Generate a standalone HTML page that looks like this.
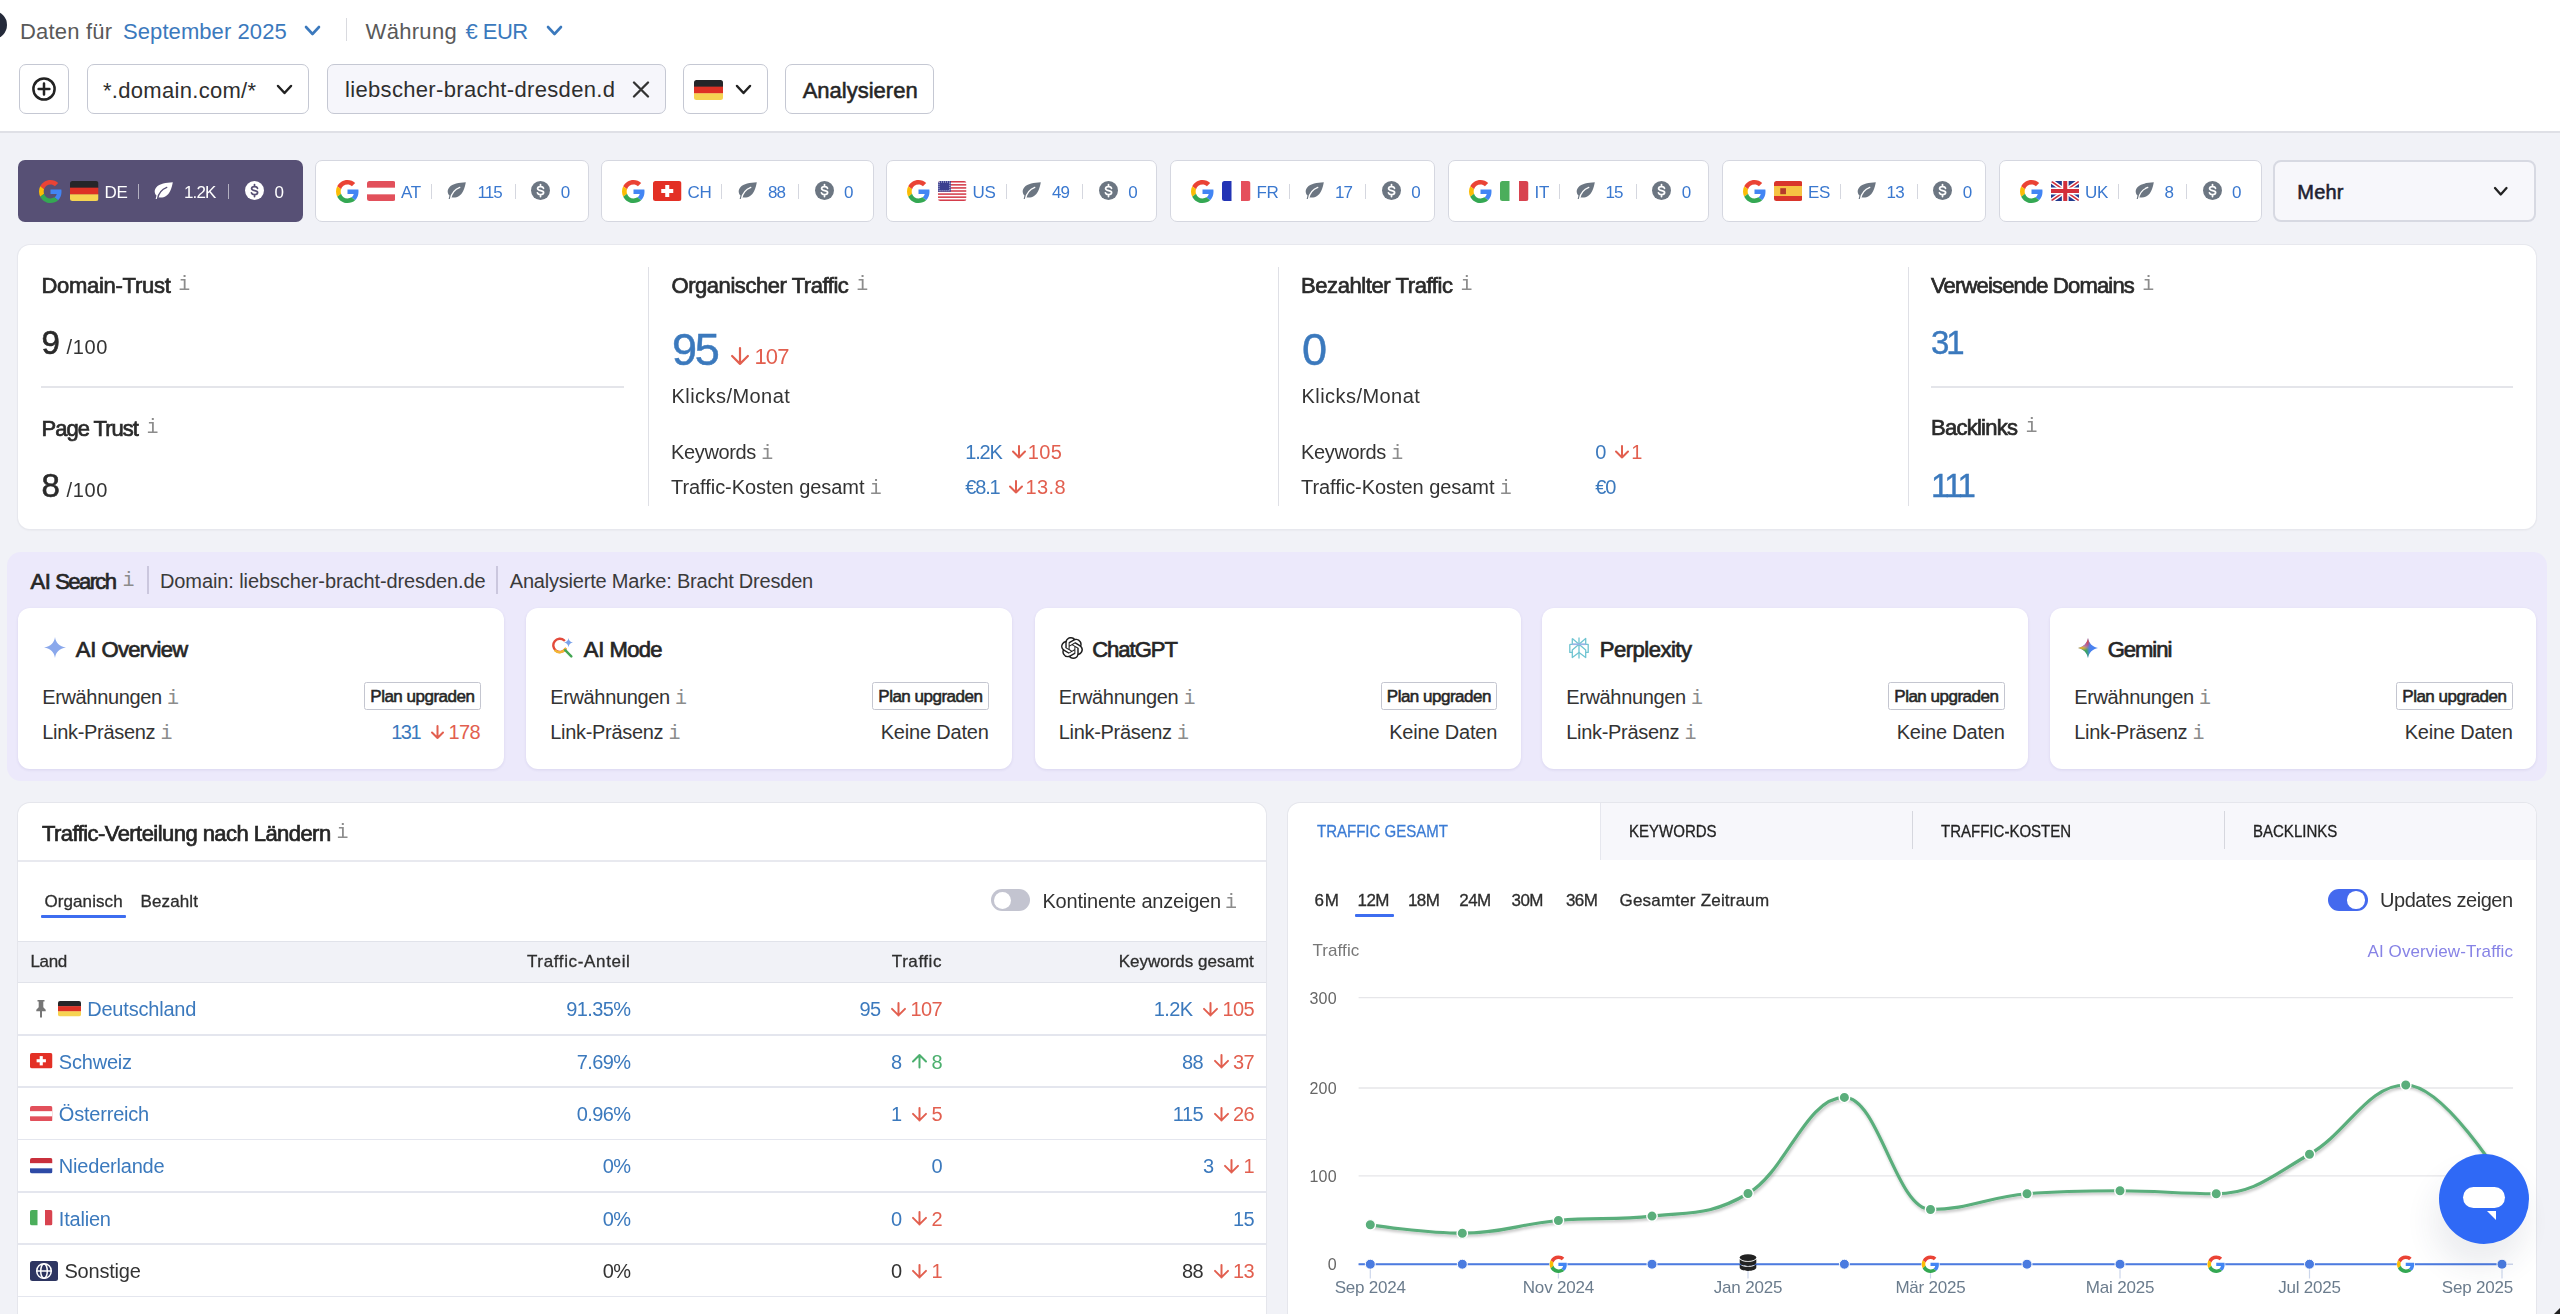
<!DOCTYPE html>
<html lang="de"><head><meta charset="utf-8"><title>Domain-Analyse</title>
<style>
*{margin:0;padding:0;box-sizing:content-box}
html,body{width:2560px;height:1314px;overflow:hidden;background:#f1f2f7}
body{position:relative;font-family:"Liberation Sans",Arial,sans-serif;-webkit-font-smoothing:antialiased}
#root{position:absolute;left:0;top:0;width:2560px;height:1314px;overflow:hidden;opacity:0.999}
.a{position:absolute}
.t{position:absolute;line-height:1;white-space:nowrap}
.ii{position:absolute;line-height:1;font-family:"Liberation Mono","DejaVu Sans Mono",monospace}
.tab{display:flex;align-items:center;font-size:17px;white-space:nowrap}
.tab svg{flex:none}
.tab .cd{margin-right:9.5px;letter-spacing:-0.3px;position:relative;top:1.5px}
.tab .sp{width:1px;height:15px;margin-right:15.5px;margin-left:0.5px;position:relative;top:0.5px}
.tab .nm{margin-right:12.5px;letter-spacing:-0.9px;position:relative;top:1.5px}
.tab .dl{width:19px;height:19px;border-radius:50%;font-size:14px;font-weight:700;line-height:19px;text-align:center;margin-right:10.5px}
.tab .nm2{letter-spacing:-0.5px;position:relative;top:1.5px}
.dol{border-radius:50%;text-align:center;font-weight:700}
.ii2{position:relative;font-family:"Liberation Mono","DejaVu Sans Mono",monospace;font-size:20px;color:#8c8c8c;letter-spacing:0;font-weight:400;-webkit-text-stroke:0}
</style></head>
<body>
<div id="root">
<div class="a" style="left:0px;top:0px;width:2560px;height:131px;background:#fff;"></div>
<div class="a" style="left:0px;top:131px;width:2560px;height:2px;background:#dfe0e6;"></div>
<div class="a" style="left:-21px;top:11px;width:28px;height:28px;border-radius:50%;background:#242a3a"></div>
<div class="t" style="top:21.4px;font-size:22px;color:#595959;letter-spacing:0.2px;left:20.0px;">Daten für</div>
<div class="t" style="top:21.4px;font-size:22px;color:#3b79bd;letter-spacing:0.08px;left:123.0px;">September 2025</div>
<svg class="a" style="left:303.5px;top:25px;" width="17" height="11" viewBox="0 0 17 11"><polyline points="2,2 8.5,9 15,2" fill="none" stroke="#3b79bd" stroke-width="2.6" stroke-linecap="round" stroke-linejoin="round"/></svg>
<div class="a" style="left:346px;top:18px;width:1px;height:23px;background:#d9dadf;"></div>
<div class="t" style="top:21.4px;font-size:22px;color:#595959;letter-spacing:0.3px;left:365.6px;">Währung</div>
<div class="t" style="top:21.4px;font-size:22px;color:#3b79bd;letter-spacing:-0.55px;left:465.6px;">€ EUR</div>
<svg class="a" style="left:545.5px;top:25px;" width="17" height="11" viewBox="0 0 17 11"><polyline points="2,2 8.5,9 15,2" fill="none" stroke="#3b79bd" stroke-width="2.6" stroke-linecap="round" stroke-linejoin="round"/></svg>
<div class="a" style="left:19px;top:64px;width:50px;height:50px;border:1.6px solid #c5c8d3;border-radius:7px;box-sizing:border-box;background:#fff;"></div>
<svg class="a" style="left:31px;top:76px;" width="26" height="26" viewBox="0 0 26 26"><circle cx="13" cy="13" r="10.6" fill="none" stroke="#222" stroke-width="2.5"/><path d="M13 7.6v10.8M7.6 13h10.8" stroke="#222" stroke-width="2.5" stroke-linecap="round"/></svg>
<div class="a" style="left:87px;top:64px;width:222px;height:50px;border:1.6px solid #c5c8d3;border-radius:7px;box-sizing:border-box;background:#fff;"></div>
<div class="t" style="top:79.6px;font-size:22px;color:#2e2e2e;letter-spacing:0.3px;left:103.0px;">*.domain.com/*</div>
<svg class="a" style="left:275.5px;top:84px;" width="17" height="11" viewBox="0 0 17 11"><polyline points="2,2 8.5,9 15,2" fill="none" stroke="#222" stroke-width="2.5" stroke-linecap="round" stroke-linejoin="round"/></svg>
<div class="a" style="left:327px;top:64px;width:339px;height:50px;border:1.6px solid #c5c8d3;border-radius:7px;box-sizing:border-box;background:#fff;background:#f6f6fb;"></div>
<div class="t" style="top:78.9px;font-size:22px;color:#2e2e2e;letter-spacing:0.33px;left:345.0px;">liebscher-bracht-dresden.d</div>
<svg class="a" style="left:632px;top:81px;" width="18" height="17" viewBox="0 0 18 17"><path d="M2 1.5L16 15.5M16 1.5L2 15.5" stroke="#333" stroke-width="2.3" stroke-linecap="round"/></svg>
<div class="a" style="left:683px;top:64px;width:85px;height:50px;border:1.6px solid #c5c8d3;border-radius:7px;box-sizing:border-box;background:#fff;"></div>
<svg width="29" height="20" viewBox="0 0 29 20" style="position:absolute;left:694px;top:79.5px;"><defs><clipPath id="cf1"><rect width="29" height="20" rx="2.5"/></clipPath></defs><g clip-path="url(#cf1)"><rect width="29" height="6.966666666666667" fill="#252528"/><rect y="6.666666666666667" width="29" height="6.966666666666667" fill="#de3125"/><rect y="13.333333333333334" width="29" height="6.666666666666667" fill="#f6d452"/></g></svg>
<svg class="a" style="left:734.5px;top:84px;" width="17" height="11" viewBox="0 0 17 11"><polyline points="2,2 8.5,9 15,2" fill="none" stroke="#222" stroke-width="2.5" stroke-linecap="round" stroke-linejoin="round"/></svg>
<div class="a" style="left:785px;top:64px;width:149px;height:50px;border:1.6px solid #c5c8d3;border-radius:7px;box-sizing:border-box;background:#fff;"></div>
<div class="t" style="top:79.8px;font-size:22px;color:#262626;-webkit-text-stroke:0.55px #262626;left:802.7px;">Analysieren</div>
<div class="a" style="left:18px;top:160px;width:285px;height:62px;background:#575075;border-radius:7px;"></div>
<div class="a tab" style="left:39px;top:179px;height:24px;color:#ffffff;"><svg width="23" height="23" viewBox="0 0 48 48" style="margin-right:8px"><path fill="#EA4335" d="M24 9.5c3.54 0 6.71 1.22 9.21 3.6l6.85-6.85C35.9 2.38 30.47 0 24 0 14.62 0 6.51 5.38 2.56 13.22l7.98 6.19C12.43 13.72 17.74 9.5 24 9.5z"/><path fill="#4285F4" d="M46.98 24.55c0-1.57-.15-3.09-.38-4.55H24v9.02h12.94c-.58 2.96-2.26 5.48-4.78 7.18l7.73 6c4.51-4.18 7.09-10.36 7.09-17.650z"/><path fill="#FBBC05" d="M10.53 28.59c-.48-1.45-.76-2.990-.76-4.59s.27-3.14.76-4.59l-7.98-6.19C.92 16.46 0 20.12 0 24c0 3.88.92 7.54 2.56 10.78l7.97-6.19z"/><path fill="#34A853" d="M24 48c6.48 0 11.93-2.13 15.89-5.81l-7.73-6c-2.15 1.45-4.92 2.3-8.16 2.3-6.26 0-11.57-4.22-13.470-9.91l-7.98 6.19C6.51 42.62 14.62 48 24 48z"/></svg><svg width="28.5" height="20" viewBox="0 0 28.5 20" style="margin-right:6px"><defs><clipPath id="cf2"><rect width="28.5" height="20" rx="2.5"/></clipPath></defs><g clip-path="url(#cf2)"><rect width="28.5" height="6.966666666666667" fill="#252528"/><rect y="6.666666666666667" width="28.5" height="6.966666666666667" fill="#de3125"/><rect y="13.333333333333334" width="28.5" height="6.666666666666667" fill="#f6d452"/></g></svg><span class="cd">DE</span><span class="sp" style="background:rgba(255,255,255,0.55)"></span><svg width="19" height="17.5" viewBox="0 0 19 17.5" style="margin-right:11px;position:relative;top:-0.5px"><path d="M18.8 0.3C12 0.8 5.5 1.5 2.2 5.5C0 8.3 0.3 11.5 2.5 13.6L1.6 17.2H3.8L4.4 15.2C8.5 16.4 13.6 14.6 16.2 9C17.6 6 18.4 3 18.8 0.3Z" fill="#ffffff"/><path d="M3.5 16.8C4.5 11 7.8 7.3 12.8 5.3" fill="none" stroke="#575075" stroke-width="1.3" stroke-linecap="round"/></svg><span class="nm">1.2K</span><span class="sp" style="background:rgba(255,255,255,0.55)"></span><svg width="19" height="19" viewBox="0 0 19 19" style="margin-right:10.5px;position:relative;top:-0.5px"><circle cx="9.5" cy="9.5" r="9.5" fill="#ffffff"/><path d="M12.5 7.3C12.2 6.1 11 5.5 9.5 5.5C7.9 5.5 6.6 6.3 6.6 7.6C6.6 10.6 12.6 8.7 12.6 11.6C12.6 12.9 11.2 13.7 9.5 13.7C8 13.7 6.8 13 6.4 11.8M9.5 3.6V5.5M9.5 13.7V15.5" fill="none" stroke="#575075" stroke-width="1.75" stroke-linecap="round"/></svg><span class="nm2">0</span></div>
<div class="a" style="left:314.5px;top:160px;width:274px;height:61.5px;background:#fff;border:1.5px solid #d5d7e0;border-radius:7px;box-sizing:border-box;"></div>
<div class="a tab" style="left:335.5px;top:179px;height:24px;color:#3a78cf;"><svg width="23" height="23" viewBox="0 0 48 48" style="margin-right:8px"><path fill="#EA4335" d="M24 9.5c3.54 0 6.71 1.22 9.21 3.6l6.85-6.85C35.9 2.38 30.47 0 24 0 14.62 0 6.51 5.38 2.56 13.22l7.98 6.19C12.43 13.72 17.74 9.5 24 9.5z"/><path fill="#4285F4" d="M46.98 24.55c0-1.57-.15-3.09-.38-4.55H24v9.02h12.94c-.58 2.96-2.26 5.48-4.78 7.18l7.73 6c4.51-4.18 7.09-10.36 7.09-17.650z"/><path fill="#FBBC05" d="M10.53 28.59c-.48-1.45-.76-2.990-.76-4.59s.27-3.14.76-4.59l-7.98-6.19C.92 16.46 0 20.12 0 24c0 3.88.92 7.54 2.56 10.78l7.97-6.19z"/><path fill="#34A853" d="M24 48c6.48 0 11.93-2.13 15.89-5.81l-7.73-6c-2.15 1.45-4.92 2.3-8.16 2.3-6.26 0-11.57-4.22-13.470-9.91l-7.98 6.19C6.51 42.62 14.62 48 24 48z"/></svg><svg width="28.5" height="20" viewBox="0 0 28.5 20" style="margin-right:6px"><defs><clipPath id="cf3"><rect width="28.5" height="20" rx="2.5"/></clipPath></defs><g clip-path="url(#cf3)"><rect width="28.5" height="20" fill="#e2505b"/><rect y="6.666666666666667" width="28.5" height="6.666666666666667" fill="#fff"/></g></svg><span class="cd">AT</span><span class="sp" style="background:#d5d7df"></span><svg width="19" height="17.5" viewBox="0 0 19 17.5" style="margin-right:11px;position:relative;top:-0.5px"><path d="M18.8 0.3C12 0.8 5.5 1.5 2.2 5.5C0 8.3 0.3 11.5 2.5 13.6L1.6 17.2H3.8L4.4 15.2C8.5 16.4 13.6 14.6 16.2 9C17.6 6 18.4 3 18.8 0.3Z" fill="#6c7682"/><path d="M3.5 16.8C4.5 11 7.8 7.3 12.8 5.3" fill="none" stroke="#ffffff" stroke-width="1.3" stroke-linecap="round"/></svg><span class="nm">115</span><span class="sp" style="background:#d5d7df"></span><svg width="19" height="19" viewBox="0 0 19 19" style="margin-right:10.5px;position:relative;top:-0.5px"><circle cx="9.5" cy="9.5" r="9.5" fill="#6c7682"/><path d="M12.5 7.3C12.2 6.1 11 5.5 9.5 5.5C7.9 5.5 6.6 6.3 6.6 7.6C6.6 10.6 12.6 8.7 12.6 11.6C12.6 12.9 11.2 13.7 9.5 13.7C8 13.7 6.8 13 6.4 11.8M9.5 3.6V5.5M9.5 13.7V15.5" fill="none" stroke="#ffffff" stroke-width="1.75" stroke-linecap="round"/></svg><span class="nm2">0</span></div>
<div class="a" style="left:601px;top:160px;width:273px;height:61.5px;background:#fff;border:1.5px solid #d5d7e0;border-radius:7px;box-sizing:border-box;"></div>
<div class="a tab" style="left:622px;top:179px;height:24px;color:#3a78cf;"><svg width="23" height="23" viewBox="0 0 48 48" style="margin-right:8px"><path fill="#EA4335" d="M24 9.5c3.54 0 6.71 1.22 9.21 3.6l6.85-6.85C35.9 2.38 30.47 0 24 0 14.62 0 6.51 5.38 2.56 13.22l7.98 6.19C12.43 13.72 17.74 9.5 24 9.5z"/><path fill="#4285F4" d="M46.98 24.55c0-1.57-.15-3.09-.38-4.55H24v9.02h12.94c-.58 2.96-2.26 5.48-4.78 7.18l7.73 6c4.51-4.18 7.09-10.36 7.09-17.650z"/><path fill="#FBBC05" d="M10.53 28.59c-.48-1.45-.76-2.990-.76-4.59s.27-3.14.76-4.59l-7.98-6.19C.92 16.46 0 20.12 0 24c0 3.88.92 7.54 2.56 10.78l7.97-6.19z"/><path fill="#34A853" d="M24 48c6.48 0 11.93-2.13 15.89-5.81l-7.73-6c-2.15 1.45-4.92 2.3-8.16 2.3-6.26 0-11.57-4.22-13.470-9.91l-7.98 6.19C6.51 42.62 14.62 48 24 48z"/></svg><svg width="28.5" height="20" viewBox="0 0 28.5 20" style="margin-right:6px"><defs><clipPath id="cf4"><rect width="28.5" height="20" rx="2.5"/></clipPath></defs><g clip-path="url(#cf4)"><rect width="28.5" height="20" fill="#e33025"/><rect x="12.25" y="4.0" width="4.0" height="12.0" fill="#fff"/><rect x="8.25" y="8.0" width="12.0" height="4.0" fill="#fff"/></g></svg><span class="cd">CH</span><span class="sp" style="background:#d5d7df"></span><svg width="19" height="17.5" viewBox="0 0 19 17.5" style="margin-right:11px;position:relative;top:-0.5px"><path d="M18.8 0.3C12 0.8 5.5 1.5 2.2 5.5C0 8.3 0.3 11.5 2.5 13.6L1.6 17.2H3.8L4.4 15.2C8.5 16.4 13.6 14.6 16.2 9C17.6 6 18.4 3 18.8 0.3Z" fill="#6c7682"/><path d="M3.5 16.8C4.5 11 7.8 7.3 12.8 5.3" fill="none" stroke="#ffffff" stroke-width="1.3" stroke-linecap="round"/></svg><span class="nm">88</span><span class="sp" style="background:#d5d7df"></span><svg width="19" height="19" viewBox="0 0 19 19" style="margin-right:10.5px;position:relative;top:-0.5px"><circle cx="9.5" cy="9.5" r="9.5" fill="#6c7682"/><path d="M12.5 7.3C12.2 6.1 11 5.5 9.5 5.5C7.9 5.5 6.6 6.3 6.6 7.6C6.6 10.6 12.6 8.7 12.6 11.6C12.6 12.9 11.2 13.7 9.5 13.7C8 13.7 6.8 13 6.4 11.8M9.5 3.6V5.5M9.5 13.7V15.5" fill="none" stroke="#ffffff" stroke-width="1.75" stroke-linecap="round"/></svg><span class="nm2">0</span></div>
<div class="a" style="left:886px;top:160px;width:271px;height:61.5px;background:#fff;border:1.5px solid #d5d7e0;border-radius:7px;box-sizing:border-box;"></div>
<div class="a tab" style="left:907px;top:179px;height:24px;color:#3a78cf;"><svg width="23" height="23" viewBox="0 0 48 48" style="margin-right:8px"><path fill="#EA4335" d="M24 9.5c3.54 0 6.71 1.22 9.21 3.6l6.85-6.85C35.9 2.38 30.47 0 24 0 14.62 0 6.51 5.38 2.56 13.22l7.98 6.19C12.43 13.72 17.74 9.5 24 9.5z"/><path fill="#4285F4" d="M46.98 24.55c0-1.57-.15-3.09-.38-4.55H24v9.02h12.94c-.58 2.96-2.26 5.48-4.78 7.18l7.73 6c4.51-4.18 7.09-10.36 7.09-17.650z"/><path fill="#FBBC05" d="M10.53 28.59c-.48-1.45-.76-2.990-.76-4.59s.27-3.14.76-4.59l-7.98-6.19C.92 16.46 0 20.12 0 24c0 3.88.92 7.54 2.56 10.78l7.97-6.19z"/><path fill="#34A853" d="M24 48c6.48 0 11.93-2.13 15.89-5.81l-7.73-6c-2.15 1.45-4.92 2.3-8.16 2.3-6.26 0-11.57-4.22-13.470-9.91l-7.98 6.19C6.51 42.62 14.62 48 24 48z"/></svg><svg width="28.5" height="20" viewBox="0 0 28.5 20" style="margin-right:6px"><defs><clipPath id="cf5"><rect width="28.5" height="20" rx="2.5"/></clipPath></defs><g clip-path="url(#cf5)"><rect width="28.5" height="20" fill="#fff"/><rect y="0.0" width="28.5" height="1.5384615384615385" fill="#d43c4a"/><rect y="3.076923076923077" width="28.5" height="1.5384615384615385" fill="#d43c4a"/><rect y="6.153846153846154" width="28.5" height="1.5384615384615385" fill="#d43c4a"/><rect y="9.23076923076923" width="28.5" height="1.5384615384615385" fill="#d43c4a"/><rect y="12.307692307692308" width="28.5" height="1.5384615384615385" fill="#d43c4a"/><rect y="15.384615384615385" width="28.5" height="1.5384615384615385" fill="#d43c4a"/><rect y="18.46153846153846" width="28.5" height="1.5384615384615385" fill="#d43c4a"/><rect width="12.825000000000001" height="10.76923076923077" fill="#3b3f8f"/><rect x="1" y="1" width="10.825000000000001" height="8.76923076923077" fill="none" stroke="#cfd3ea" stroke-width="1" stroke-dasharray="1 1"/></g></svg><span class="cd">US</span><span class="sp" style="background:#d5d7df"></span><svg width="19" height="17.5" viewBox="0 0 19 17.5" style="margin-right:11px;position:relative;top:-0.5px"><path d="M18.8 0.3C12 0.8 5.5 1.5 2.2 5.5C0 8.3 0.3 11.5 2.5 13.6L1.6 17.2H3.8L4.4 15.2C8.5 16.4 13.6 14.6 16.2 9C17.6 6 18.4 3 18.8 0.3Z" fill="#6c7682"/><path d="M3.5 16.8C4.5 11 7.8 7.3 12.8 5.3" fill="none" stroke="#ffffff" stroke-width="1.3" stroke-linecap="round"/></svg><span class="nm">49</span><span class="sp" style="background:#d5d7df"></span><svg width="19" height="19" viewBox="0 0 19 19" style="margin-right:10.5px;position:relative;top:-0.5px"><circle cx="9.5" cy="9.5" r="9.5" fill="#6c7682"/><path d="M12.5 7.3C12.2 6.1 11 5.5 9.5 5.5C7.9 5.5 6.6 6.3 6.6 7.6C6.6 10.6 12.6 8.7 12.6 11.6C12.6 12.9 11.2 13.7 9.5 13.7C8 13.7 6.8 13 6.4 11.8M9.5 3.6V5.5M9.5 13.7V15.5" fill="none" stroke="#ffffff" stroke-width="1.75" stroke-linecap="round"/></svg><span class="nm2">0</span></div>
<div class="a" style="left:1170px;top:160px;width:265px;height:61.5px;background:#fff;border:1.5px solid #d5d7e0;border-radius:7px;box-sizing:border-box;"></div>
<div class="a tab" style="left:1191px;top:179px;height:24px;color:#3a78cf;"><svg width="23" height="23" viewBox="0 0 48 48" style="margin-right:8px"><path fill="#EA4335" d="M24 9.5c3.54 0 6.71 1.22 9.21 3.6l6.85-6.85C35.9 2.38 30.47 0 24 0 14.62 0 6.51 5.38 2.56 13.22l7.98 6.19C12.43 13.72 17.74 9.5 24 9.5z"/><path fill="#4285F4" d="M46.98 24.55c0-1.57-.15-3.09-.38-4.55H24v9.02h12.94c-.58 2.96-2.26 5.48-4.78 7.18l7.73 6c4.51-4.18 7.09-10.36 7.09-17.650z"/><path fill="#FBBC05" d="M10.53 28.59c-.48-1.45-.76-2.990-.76-4.59s.27-3.14.76-4.59l-7.98-6.19C.92 16.46 0 20.12 0 24c0 3.88.92 7.54 2.56 10.78l7.97-6.19z"/><path fill="#34A853" d="M24 48c6.48 0 11.93-2.13 15.89-5.81l-7.73-6c-2.15 1.45-4.92 2.3-8.16 2.3-6.26 0-11.57-4.22-13.470-9.91l-7.98 6.19C6.51 42.62 14.62 48 24 48z"/></svg><svg width="28.5" height="20" viewBox="0 0 28.5 20" style="margin-right:6px"><defs><clipPath id="cf6"><rect width="28.5" height="20" rx="2.5"/></clipPath></defs><g clip-path="url(#cf6)"><rect width="28.5" height="20" fill="#fff"/><rect width="9.5" height="20" fill="#2334b5"/><rect x="19.0" width="9.5" height="20" fill="#e5505c"/></g></svg><span class="cd">FR</span><span class="sp" style="background:#d5d7df"></span><svg width="19" height="17.5" viewBox="0 0 19 17.5" style="margin-right:11px;position:relative;top:-0.5px"><path d="M18.8 0.3C12 0.8 5.5 1.5 2.2 5.5C0 8.3 0.3 11.5 2.5 13.6L1.6 17.2H3.8L4.4 15.2C8.5 16.4 13.6 14.6 16.2 9C17.6 6 18.4 3 18.8 0.3Z" fill="#6c7682"/><path d="M3.5 16.8C4.5 11 7.8 7.3 12.8 5.3" fill="none" stroke="#ffffff" stroke-width="1.3" stroke-linecap="round"/></svg><span class="nm">17</span><span class="sp" style="background:#d5d7df"></span><svg width="19" height="19" viewBox="0 0 19 19" style="margin-right:10.5px;position:relative;top:-0.5px"><circle cx="9.5" cy="9.5" r="9.5" fill="#6c7682"/><path d="M12.5 7.3C12.2 6.1 11 5.5 9.5 5.5C7.9 5.5 6.6 6.3 6.6 7.6C6.6 10.6 12.6 8.7 12.6 11.6C12.6 12.9 11.2 13.7 9.5 13.7C8 13.7 6.8 13 6.4 11.8M9.5 3.6V5.5M9.5 13.7V15.5" fill="none" stroke="#ffffff" stroke-width="1.75" stroke-linecap="round"/></svg><span class="nm2">0</span></div>
<div class="a" style="left:1448px;top:160px;width:261px;height:61.5px;background:#fff;border:1.5px solid #d5d7e0;border-radius:7px;box-sizing:border-box;"></div>
<div class="a tab" style="left:1469px;top:179px;height:24px;color:#3a78cf;"><svg width="23" height="23" viewBox="0 0 48 48" style="margin-right:8px"><path fill="#EA4335" d="M24 9.5c3.54 0 6.71 1.22 9.21 3.6l6.85-6.85C35.9 2.38 30.47 0 24 0 14.62 0 6.51 5.38 2.56 13.22l7.98 6.19C12.43 13.72 17.74 9.5 24 9.5z"/><path fill="#4285F4" d="M46.98 24.55c0-1.57-.15-3.09-.38-4.55H24v9.02h12.94c-.58 2.96-2.26 5.48-4.78 7.18l7.73 6c4.51-4.18 7.09-10.36 7.09-17.650z"/><path fill="#FBBC05" d="M10.53 28.59c-.48-1.45-.76-2.990-.76-4.59s.27-3.14.76-4.59l-7.98-6.19C.92 16.46 0 20.12 0 24c0 3.88.92 7.54 2.56 10.78l7.97-6.19z"/><path fill="#34A853" d="M24 48c6.48 0 11.93-2.13 15.89-5.81l-7.73-6c-2.15 1.45-4.92 2.3-8.16 2.3-6.26 0-11.57-4.22-13.470-9.91l-7.98 6.19C6.51 42.62 14.62 48 24 48z"/></svg><svg width="28.5" height="20" viewBox="0 0 28.5 20" style="margin-right:6px"><defs><clipPath id="cf7"><rect width="28.5" height="20" rx="2.5"/></clipPath></defs><g clip-path="url(#cf7)"><rect width="28.5" height="20" fill="#fff"/><rect width="9.5" height="20" fill="#4bae5b"/><rect x="19.0" width="9.5" height="20" fill="#d8434f"/></g></svg><span class="cd">IT</span><span class="sp" style="background:#d5d7df"></span><svg width="19" height="17.5" viewBox="0 0 19 17.5" style="margin-right:11px;position:relative;top:-0.5px"><path d="M18.8 0.3C12 0.8 5.5 1.5 2.2 5.5C0 8.3 0.3 11.5 2.5 13.6L1.6 17.2H3.8L4.4 15.2C8.5 16.4 13.6 14.6 16.2 9C17.6 6 18.4 3 18.8 0.3Z" fill="#6c7682"/><path d="M3.5 16.8C4.5 11 7.8 7.3 12.8 5.3" fill="none" stroke="#ffffff" stroke-width="1.3" stroke-linecap="round"/></svg><span class="nm">15</span><span class="sp" style="background:#d5d7df"></span><svg width="19" height="19" viewBox="0 0 19 19" style="margin-right:10.5px;position:relative;top:-0.5px"><circle cx="9.5" cy="9.5" r="9.5" fill="#6c7682"/><path d="M12.5 7.3C12.2 6.1 11 5.5 9.5 5.5C7.9 5.5 6.6 6.3 6.6 7.6C6.6 10.6 12.6 8.7 12.6 11.6C12.6 12.9 11.2 13.7 9.5 13.7C8 13.7 6.8 13 6.4 11.8M9.5 3.6V5.5M9.5 13.7V15.5" fill="none" stroke="#ffffff" stroke-width="1.75" stroke-linecap="round"/></svg><span class="nm2">0</span></div>
<div class="a" style="left:1721.5px;top:160px;width:264.5px;height:61.5px;background:#fff;border:1.5px solid #d5d7e0;border-radius:7px;box-sizing:border-box;"></div>
<div class="a tab" style="left:1742.5px;top:179px;height:24px;color:#3a78cf;"><svg width="23" height="23" viewBox="0 0 48 48" style="margin-right:8px"><path fill="#EA4335" d="M24 9.5c3.54 0 6.71 1.22 9.21 3.6l6.85-6.85C35.9 2.38 30.47 0 24 0 14.62 0 6.51 5.38 2.56 13.22l7.98 6.19C12.43 13.72 17.74 9.5 24 9.5z"/><path fill="#4285F4" d="M46.98 24.55c0-1.57-.15-3.09-.38-4.55H24v9.02h12.94c-.58 2.96-2.26 5.48-4.78 7.18l7.73 6c4.51-4.18 7.09-10.36 7.09-17.650z"/><path fill="#FBBC05" d="M10.53 28.59c-.48-1.45-.76-2.990-.76-4.59s.27-3.14.76-4.59l-7.98-6.19C.92 16.46 0 20.12 0 24c0 3.88.92 7.54 2.56 10.78l7.97-6.19z"/><path fill="#34A853" d="M24 48c6.48 0 11.93-2.13 15.89-5.81l-7.73-6c-2.15 1.45-4.92 2.3-8.16 2.3-6.26 0-11.57-4.22-13.470-9.91l-7.98 6.19C6.51 42.62 14.62 48 24 48z"/></svg><svg width="28.5" height="20" viewBox="0 0 28.5 20" style="margin-right:6px"><defs><clipPath id="cf8"><rect width="28.5" height="20" rx="2.5"/></clipPath></defs><g clip-path="url(#cf8)"><rect width="28.5" height="20" fill="#d9352b"/><rect y="5.0" width="28.5" height="10.0" fill="#f6c343"/><rect x="6.2700000000000005" y="7.199999999999999" width="5.7" height="6.0" fill="#b53a2a"/></g></svg><span class="cd">ES</span><span class="sp" style="background:#d5d7df"></span><svg width="19" height="17.5" viewBox="0 0 19 17.5" style="margin-right:11px;position:relative;top:-0.5px"><path d="M18.8 0.3C12 0.8 5.5 1.5 2.2 5.5C0 8.3 0.3 11.5 2.5 13.6L1.6 17.2H3.8L4.4 15.2C8.5 16.4 13.6 14.6 16.2 9C17.6 6 18.4 3 18.8 0.3Z" fill="#6c7682"/><path d="M3.5 16.8C4.5 11 7.8 7.3 12.8 5.3" fill="none" stroke="#ffffff" stroke-width="1.3" stroke-linecap="round"/></svg><span class="nm">13</span><span class="sp" style="background:#d5d7df"></span><svg width="19" height="19" viewBox="0 0 19 19" style="margin-right:10.5px;position:relative;top:-0.5px"><circle cx="9.5" cy="9.5" r="9.5" fill="#6c7682"/><path d="M12.5 7.3C12.2 6.1 11 5.5 9.5 5.5C7.9 5.5 6.6 6.3 6.6 7.6C6.6 10.6 12.6 8.7 12.6 11.6C12.6 12.9 11.2 13.7 9.5 13.7C8 13.7 6.8 13 6.4 11.8M9.5 3.6V5.5M9.5 13.7V15.5" fill="none" stroke="#ffffff" stroke-width="1.75" stroke-linecap="round"/></svg><span class="nm2">0</span></div>
<div class="a" style="left:1998.5px;top:160px;width:263px;height:61.5px;background:#fff;border:1.5px solid #d5d7e0;border-radius:7px;box-sizing:border-box;"></div>
<div class="a tab" style="left:2019.5px;top:179px;height:24px;color:#3a78cf;"><svg width="23" height="23" viewBox="0 0 48 48" style="margin-right:8px"><path fill="#EA4335" d="M24 9.5c3.54 0 6.71 1.22 9.21 3.6l6.85-6.85C35.9 2.38 30.47 0 24 0 14.62 0 6.51 5.38 2.56 13.22l7.98 6.19C12.43 13.72 17.74 9.5 24 9.5z"/><path fill="#4285F4" d="M46.98 24.55c0-1.57-.15-3.09-.38-4.55H24v9.02h12.94c-.58 2.96-2.26 5.48-4.78 7.18l7.73 6c4.51-4.18 7.09-10.36 7.09-17.650z"/><path fill="#FBBC05" d="M10.53 28.59c-.48-1.45-.76-2.990-.76-4.59s.27-3.14.76-4.59l-7.98-6.19C.92 16.46 0 20.12 0 24c0 3.88.92 7.54 2.56 10.78l7.97-6.19z"/><path fill="#34A853" d="M24 48c6.48 0 11.93-2.13 15.89-5.81l-7.73-6c-2.15 1.45-4.92 2.3-8.16 2.3-6.26 0-11.57-4.22-13.470-9.91l-7.98 6.19C6.51 42.62 14.62 48 24 48z"/></svg><svg width="28.5" height="20" viewBox="0 0 28.5 20" style="margin-right:6px"><defs><clipPath id="cf9"><rect width="28.5" height="20" rx="2.5"/></clipPath></defs><g clip-path="url(#cf9)"><rect width="28.5" height="20" fill="#243c8f"/><path d="M0,0 L28.5,20 M28.5,0 L0,20" stroke="#fff" stroke-width="4.4"/><path d="M0,0 L28.5,20 M28.5,0 L0,20" stroke="#d32f3b" stroke-width="1.6"/><path d="M14.25,0 V20 M0,10.0 H28.5" stroke="#fff" stroke-width="6.800000000000001"/><path d="M14.25,0 V20 M0,10.0 H28.5" stroke="#d32f3b" stroke-width="4.0"/></g></svg><span class="cd">UK</span><span class="sp" style="background:#d5d7df"></span><svg width="19" height="17.5" viewBox="0 0 19 17.5" style="margin-right:11px;position:relative;top:-0.5px"><path d="M18.8 0.3C12 0.8 5.5 1.5 2.2 5.5C0 8.3 0.3 11.5 2.5 13.6L1.6 17.2H3.8L4.4 15.2C8.5 16.4 13.6 14.6 16.2 9C17.6 6 18.4 3 18.8 0.3Z" fill="#6c7682"/><path d="M3.5 16.8C4.5 11 7.8 7.3 12.8 5.3" fill="none" stroke="#ffffff" stroke-width="1.3" stroke-linecap="round"/></svg><span class="nm">8</span><span class="sp" style="background:#d5d7df"></span><svg width="19" height="19" viewBox="0 0 19 19" style="margin-right:10.5px;position:relative;top:-0.5px"><circle cx="9.5" cy="9.5" r="9.5" fill="#6c7682"/><path d="M12.5 7.3C12.2 6.1 11 5.5 9.5 5.5C7.9 5.5 6.6 6.3 6.6 7.6C6.6 10.6 12.6 8.7 12.6 11.6C12.6 12.9 11.2 13.7 9.5 13.7C8 13.7 6.8 13 6.4 11.8M9.5 3.6V5.5M9.5 13.7V15.5" fill="none" stroke="#ffffff" stroke-width="1.75" stroke-linecap="round"/></svg><span class="nm2">0</span></div>
<div class="a" style="left:2273px;top:160px;width:263px;height:61.5px;background:#f7f7fb;border:2.5px solid #d7d9e2;border-radius:8px;box-sizing:border-box;"></div>
<div class="t" style="top:181.7px;font-size:20px;color:#1e2130;-webkit-text-stroke:0.55px #1e2130;letter-spacing:0.2px;left:2297.3px;">Mehr</div>
<svg class="a" style="left:2493px;top:186px;" width="15.5" height="10.5" viewBox="0 0 15.5 10.5"><polyline points="2,2 7.75,8.5 13.5,2" fill="none" stroke="#222" stroke-width="2.3" stroke-linecap="round" stroke-linejoin="round"/></svg>
<div class="a" style="left:18px;top:245px;width:2518px;height:284px;background:#fff;border-radius:12px;box-shadow:0 0 0 1px #e7e8ee, 0 1px 3px rgba(30,35,60,0.08);"></div>
<div class="a" style="left:648px;top:267px;width:1px;height:239px;background:#dfe0e6;"></div>
<div class="a" style="left:1277.5px;top:267px;width:1px;height:239px;background:#dfe0e6;"></div>
<div class="a" style="left:1907.5px;top:267px;width:1px;height:239px;background:#dfe0e6;"></div>
<div class="t" style="top:274.8px;font-size:22px;color:#2a2a2a;-webkit-text-stroke:0.7px #2a2a2a;letter-spacing:-0.29px;left:41.5px;">Domain-Trust<span class="ii2" style="margin-left:7.79px;top:-3px">i</span></div>
<div class="t" style="top:326.4px;font-size:33px;color:#2a2a2a;-webkit-text-stroke:0.6px #2a2a2a;left:41.5px;">9</div>
<div class="t" style="top:337.4px;font-size:20px;color:#333;letter-spacing:0.6px;left:66.6px;">/100</div>
<div class="a" style="left:41px;top:385.5px;width:583px;height:2px;background:#e4e5ea;"></div>
<div class="t" style="top:417.9px;font-size:22px;color:#2a2a2a;-webkit-text-stroke:0.7px #2a2a2a;letter-spacing:-1.0px;left:41.5px;">Page Trust<span class="ii2" style="margin-left:8.5px;top:-3px">i</span></div>
<div class="t" style="top:469.1px;font-size:33px;color:#2a2a2a;-webkit-text-stroke:0.6px #2a2a2a;left:41.5px;">8</div>
<div class="t" style="top:480.1px;font-size:20px;color:#333;letter-spacing:0.6px;left:66.6px;">/100</div>
<div class="t" style="top:326.7px;font-size:45px;color:#3b79bd;-webkit-text-stroke:0.5px #3b79bd;letter-spacing:-2.2px;left:672.0px;">95</div>
<svg width="18" height="18" viewBox="0 0 18 18" style="overflow:visible;position:absolute;left:731.3px;top:346.5px;"><path d="M9.0 1.1V16.9M1.1 8.999999999999998L9.0 16.9L16.9 8.999999999999998" fill="none" stroke="#e25f4f" stroke-width="2.2" stroke-linecap="round" stroke-linejoin="round"/></svg>
<div class="t" style="top:346.2px;font-size:22px;color:#e25f4f;letter-spacing:-0.9px;left:754.5px;">107</div>
<div class="t" style="top:385.8px;font-size:20px;color:#333;letter-spacing:0.45px;left:671.5px;">Klicks/Monat</div>
<div class="t" style="top:442.0px;font-size:20px;color:#333;letter-spacing:-0.35px;left:671.0px;">Keywords<span class="ii2" style="margin-left:5.3px;top:0px">i</span></div>
<div class="t" style="top:477.3px;font-size:20px;color:#333;letter-spacing:-0.05px;left:671.0px;">Traffic-Kosten gesamt<span class="ii2" style="margin-left:5.3px;top:0px">i</span></div>
<div class="t" style="top:442.0px;font-size:20px;color:#3b79bd;letter-spacing:-1.2px;left:965.3px;"><span style="color:#3b79bd">1.2K</span><svg width="14" height="13.5" viewBox="0 0 14 13.5" style="overflow:visible;margin-left:10px;margin-right:2px;vertical-align:1px"><path d="M7.0 1.0V12.5M1.0 6.5L7.0 12.5L13.0 6.5" fill="none" stroke="#e25f4f" stroke-width="2" stroke-linecap="round" stroke-linejoin="round"/></svg><span style="color:#e25f4f;letter-spacing:0.4px">105</span></div>
<div class="t" style="top:477.3px;font-size:20px;color:#3b79bd;letter-spacing:-1.2px;left:965.3px;"><span style="color:#3b79bd">€8.1</span><svg width="14" height="13.5" viewBox="0 0 14 13.5" style="overflow:visible;margin-left:10px;margin-right:2px;vertical-align:1px"><path d="M7.0 1.0V12.5M1.0 6.5L7.0 12.5L13.0 6.5" fill="none" stroke="#e25f4f" stroke-width="2" stroke-linecap="round" stroke-linejoin="round"/></svg><span style="color:#e25f4f;letter-spacing:0.4px">13.8</span></div>
<div class="t" style="top:275.1px;font-size:22px;color:#2a2a2a;-webkit-text-stroke:0.7px #2a2a2a;letter-spacing:-0.45px;left:671.5px;">Organischer Traffic<span class="ii2" style="margin-left:7.95px;top:-3px">i</span></div>
<div class="t" style="top:326.7px;font-size:45px;color:#3b79bd;-webkit-text-stroke:0.5px #3b79bd;letter-spacing:-2.2px;left:1302.0px;">0</div>
<div class="t" style="top:385.8px;font-size:20px;color:#333;letter-spacing:0.45px;left:1301.5px;">Klicks/Monat</div>
<div class="t" style="top:442.0px;font-size:20px;color:#333;letter-spacing:-0.35px;left:1301.0px;">Keywords<span class="ii2" style="margin-left:5.3px;top:0px">i</span></div>
<div class="t" style="top:477.3px;font-size:20px;color:#333;letter-spacing:-0.05px;left:1301.0px;">Traffic-Kosten gesamt<span class="ii2" style="margin-left:5.3px;top:0px">i</span></div>
<div class="t" style="top:442.0px;font-size:20px;color:#3b79bd;letter-spacing:-1.2px;left:1595.3px;"><span style="color:#3b79bd">0</span><svg width="14" height="13.5" viewBox="0 0 14 13.5" style="overflow:visible;margin-left:10px;margin-right:2px;vertical-align:1px"><path d="M7.0 1.0V12.5M1.0 6.5L7.0 12.5L13.0 6.5" fill="none" stroke="#e25f4f" stroke-width="2" stroke-linecap="round" stroke-linejoin="round"/></svg><span style="color:#e25f4f;letter-spacing:0.4px">1</span></div>
<div class="t" style="top:477.3px;font-size:20px;color:#3b79bd;letter-spacing:-1.2px;left:1595.3px;"><span style="color:#3b79bd">€0</span></div>
<div class="t" style="top:275.1px;font-size:22px;color:#2a2a2a;-webkit-text-stroke:0.7px #2a2a2a;letter-spacing:-0.41px;left:1301.0px;">Bezahlter Traffic<span class="ii2" style="margin-left:7.91px;top:-3px">i</span></div>
<div class="t" style="top:274.8px;font-size:22px;color:#2a2a2a;-webkit-text-stroke:0.7px #2a2a2a;letter-spacing:-0.84px;left:1931.0px;">Verweisende Domains<span class="ii2" style="margin-left:8.34px;top:-3px">i</span></div>
<div class="t" style="top:326.2px;font-size:33px;color:#3b79bd;-webkit-text-stroke:0.4px #3b79bd;letter-spacing:-3.2px;left:1931.0px;">31</div>
<div class="a" style="left:1931px;top:385.5px;width:582px;height:2px;background:#e4e5ea;"></div>
<div class="t" style="top:417.4px;font-size:22px;color:#2a2a2a;-webkit-text-stroke:0.7px #2a2a2a;letter-spacing:-0.75px;left:1931.0px;">Backlinks<span class="ii2" style="margin-left:8.25px;top:-3px">i</span></div>
<div class="t" style="top:468.9px;font-size:33px;color:#3b79bd;-webkit-text-stroke:0.4px #3b79bd;letter-spacing:-2.6px;left:1931.0px;">111</div>
<div class="a" style="left:7px;top:552px;width:2540px;height:229px;background:#ece9fb;border-radius:14px;"></div>
<div class="t" style="top:570.7px;font-size:22px;color:#262626;-webkit-text-stroke:0.7px #262626;letter-spacing:-1.6px;left:30.4px;"><span style="letter-spacing:-0.2px">AI</span> Search<span class="ii2" style="margin-left:7.1px;top:-2.5px">i</span></div>
<div class="a" style="left:147px;top:566px;width:1.5px;height:28px;background:#cbc7de;"></div>
<div class="t" style="top:570.8px;font-size:20px;color:#3a3a3a;letter-spacing:-0.1px;left:160.0px;">Domain: liebscher-bracht-dresden.de</div>
<div class="a" style="left:496px;top:566px;width:1.5px;height:28px;background:#cbc7de;"></div>
<div class="t" style="top:570.8px;font-size:20px;color:#3a3a3a;letter-spacing:-0.21px;left:509.8px;">Analysierte Marke: Bracht Dresden</div>
<div class="a" style="left:18px;top:608px;width:486px;height:161px;background:#fff;border-radius:12px;box-shadow:0 1px 3px rgba(60,50,140,0.10);"></div>
<svg class="a" style="left:44.4px;top:637px;" width="22" height="21" viewBox="0 0 22 21"><path d="M11 0C11.6 5.6 15.4 9.6 22 10.4 15.4 11.2 11.6 15.2 11 21 10.4 15.2 6.6 11.2 0 10.4 6.6 9.6 10.4 5.6 11 0Z" fill="#8aa8ec"/></svg>
<div class="t" style="top:638.5px;font-size:22px;color:#262626;-webkit-text-stroke:0.7px #262626;letter-spacing:-0.71px;left:75.7px;"><span style="letter-spacing:-0.2px">AI</span> Overview</div>
<div class="t" style="top:686.9px;font-size:20px;color:#333;letter-spacing:-0.35px;left:42.2px;">Erwähnungen<span class="ii2" style="margin-left:5.3px;top:0px">i</span></div>
<div class="a" style="left:364.3px;top:682.2px;width:116.5px;height:27.5px;border:1.2px solid #c4c6d0;border-radius:2.5px;box-sizing:border-box;background:#fff;"></div>
<div class="t" style="top:687.9px;font-size:17px;color:#262626;-webkit-text-stroke:0.55px #262626;letter-spacing:-0.5px;left:370.3px;">Plan upgraden</div>
<div class="t" style="top:721.5px;font-size:20px;color:#333;letter-spacing:-0.3px;left:42.2px;">Link-Präsenz<span class="ii2" style="margin-left:5.3px;top:0px">i</span></div>
<div class="t" style="top:721.5px;font-size:20px;color:#3b79bd;letter-spacing:-1.6px;right:2080.0px;"><span style="color:#3b79bd">131</span><svg width="13" height="14" viewBox="0 0 13 14" style="overflow:visible;margin-left:11px;margin-right:4.5px;vertical-align:0px"><path d="M6.5 1.0V13.0M1.0 7.5L6.5 13.0L12.0 7.5" fill="none" stroke="#e25f4f" stroke-width="2" stroke-linecap="round" stroke-linejoin="round"/></svg><span style="color:#e25f4f;letter-spacing:-0.6px">178</span></div>
<div class="a" style="left:526px;top:608px;width:486px;height:161px;background:#fff;border-radius:12px;box-shadow:0 1px 3px rgba(60,50,140,0.10);"></div>
<svg class="a" style="left:551.5px;top:637px;" width="22" height="21" viewBox="0 0 22 21"><path d="M12.2 3.3A6.6 6.6 0 1 0 13.4 12" fill="none" stroke="#e34a3b" stroke-width="2.4" stroke-linecap="round"/><path d="M3.3 13.7A6.6 6.6 0 0 0 13.4 11.8" fill="none" stroke="#f2b632" stroke-width="2.4" stroke-linecap="round"/><path d="M13.2 13.2L19.3 19.4" stroke="#43a653" stroke-width="2.4" stroke-linecap="round"/><path d="M16.5 1C16.8 3.6 18.3 5.2 21 5.6 18.3 6 16.8 7.6 16.5 10.3 16.2 7.6 14.7 6 12 5.6 14.7 5.2 16.2 3.6 16.5 1Z" fill="#7ba2ea"/></svg>
<div class="t" style="top:638.5px;font-size:22px;color:#262626;-webkit-text-stroke:0.7px #262626;letter-spacing:-0.67px;left:583.7px;"><span style="letter-spacing:-0.2px">AI</span> Mode</div>
<div class="t" style="top:686.9px;font-size:20px;color:#333;letter-spacing:-0.35px;left:550.2px;">Erwähnungen<span class="ii2" style="margin-left:5.3px;top:0px">i</span></div>
<div class="a" style="left:872.3px;top:682.2px;width:116.5px;height:27.5px;border:1.2px solid #c4c6d0;border-radius:2.5px;box-sizing:border-box;background:#fff;"></div>
<div class="t" style="top:687.9px;font-size:17px;color:#262626;-webkit-text-stroke:0.55px #262626;letter-spacing:-0.5px;left:878.3px;">Plan upgraden</div>
<div class="t" style="top:721.5px;font-size:20px;color:#333;letter-spacing:-0.3px;left:550.2px;">Link-Präsenz<span class="ii2" style="margin-left:5.3px;top:0px">i</span></div>
<div class="t" style="top:721.5px;font-size:20px;color:#333;letter-spacing:-0.2px;right:1571.4px;">Keine Daten</div>
<div class="a" style="left:1034.5px;top:608px;width:486px;height:161px;background:#fff;border-radius:12px;box-shadow:0 1px 3px rgba(60,50,140,0.10);"></div>
<svg class="a" style="left:1061.0px;top:637px;" width="22" height="22" viewBox="0 0 22 22"><path transform="scale(0.9167)" fill="#1e1e1e" d="M22.2819 9.8211a5.9847 5.9847 0 0 0-.5157-4.9108 6.0462 6.0462 0 0 0-6.5098-2.9A6.0651 6.0651 0 0 0 4.9807 4.1818a5.9847 5.9847 0 0 0-3.9977 2.9 6.0462 6.0462 0 0 0 .7427 7.0966 5.98 5.98 0 0 0 .511 4.9107 6.051 6.051 0 0 0 6.5146 2.9001A5.9847 5.9847 0 0 0 13.2599 24a6.0557 6.0557 0 0 0 5.7718-4.2058 5.9894 5.9894 0 0 0 3.9977-2.9001 6.0557 6.0557 0 0 0-.7475-7.0729zm-9.022 12.6081a4.4755 4.4755 0 0 1-2.8764-1.0408l.1419-.0804 4.7783-2.7582a.7948.7948 0 0 0 .3927-.6813v-6.7369l2.02 1.1686a.071.071 0 0 1 .038.052v5.5826a4.504 4.504 0 0 1-4.4945 4.4944zm-9.6607-4.1254a4.4708 4.4708 0 0 1-.5346-3.0137l.142.0852 4.783 2.7582a.7712.7712 0 0 0 .7806 0l5.8428-3.3685v2.3324a.0804.0804 0 0 1-.0332.0615L9.74 19.9502a4.4992 4.4992 0 0 1-6.1408-1.6464zM2.3408 7.8956a4.485 4.485 0 0 1 2.3655-1.9728V11.6a.7664.7664 0 0 0 .3879.6765l5.8144 3.3543-2.0201 1.1685a.0757.0757 0 0 1-.071 0l-4.8303-2.7865A4.504 4.504 0 0 1 2.3408 7.872zm16.5963 3.8558L13.1038 8.364 15.1192 7.2a.0757.0757 0 0 1 .071 0l4.8303 2.7913a4.4944 4.4944 0 0 1-.6765 8.1042v-5.6772a.79.79 0 0 0-.407-.667zm2.0107-3.0231l-.142-.0852-4.7735-2.7818a.7759.7759 0 0 0-.7854 0L9.409 9.2297V6.8974a.0662.0662 0 0 1 .0284-.0615l4.8303-2.7866a4.4992 4.4992 0 0 1 6.6802 4.66zM8.3065 12.863l-2.02-1.1638a.0804.0804 0 0 1-.038-.0567V6.0742a4.4992 4.4992 0 0 1 7.3757-3.4537l-.142.0805L8.704 5.459a.7948.7948 0 0 0-.3927.6813zm1.0976-2.3654l2.602-1.4998 2.6069 1.4998v2.9994l-2.5974 1.4997-2.6067-1.4997Z"/></svg>
<div class="t" style="top:638.5px;font-size:22px;color:#262626;-webkit-text-stroke:0.7px #262626;letter-spacing:-1.0px;left:1092.2px;">ChatGPT</div>
<div class="t" style="top:686.9px;font-size:20px;color:#333;letter-spacing:-0.35px;left:1058.7px;">Erwähnungen<span class="ii2" style="margin-left:5.3px;top:0px">i</span></div>
<div class="a" style="left:1380.8px;top:682.2px;width:116.5px;height:27.5px;border:1.2px solid #c4c6d0;border-radius:2.5px;box-sizing:border-box;background:#fff;"></div>
<div class="t" style="top:687.9px;font-size:17px;color:#262626;-webkit-text-stroke:0.55px #262626;letter-spacing:-0.5px;left:1386.8px;">Plan upgraden</div>
<div class="t" style="top:721.5px;font-size:20px;color:#333;letter-spacing:-0.3px;left:1058.7px;">Link-Präsenz<span class="ii2" style="margin-left:5.3px;top:0px">i</span></div>
<div class="t" style="top:721.5px;font-size:20px;color:#333;letter-spacing:-0.2px;right:1062.9px;">Keine Daten</div>
<div class="a" style="left:1542px;top:608px;width:486px;height:161px;background:#fff;border-radius:12px;box-shadow:0 1px 3px rgba(60,50,140,0.10);"></div>
<svg class="a" style="left:1569px;top:636.5px;" width="20" height="22" viewBox="0 0 20 22"><g fill="none" stroke="#6fc4d1" stroke-width="1.3" stroke-linejoin="round"><path d="M10 0.5V21.5"/><path d="M3.3 1.5L10 7.3L16.7 1.5V7.3"/><path d="M3.3 1.5V7.3"/><path d="M0.8 7.3H19.2V15.4H16.7"/><path d="M0.8 7.3V15.4H3.3"/><path d="M10 7.3L3.3 13V20.5L10 15.5L16.7 20.5V13L10 7.3"/></g><path d="M3.3 7.3H16.7" stroke="#9bb3e6" stroke-width="1.6"/></svg>
<div class="t" style="top:638.5px;font-size:22px;color:#262626;-webkit-text-stroke:0.7px #262626;letter-spacing:-0.48px;left:1599.7px;">Perplexity</div>
<div class="t" style="top:686.9px;font-size:20px;color:#333;letter-spacing:-0.35px;left:1566.2px;">Erwähnungen<span class="ii2" style="margin-left:5.3px;top:0px">i</span></div>
<div class="a" style="left:1888.3px;top:682.2px;width:116.5px;height:27.5px;border:1.2px solid #c4c6d0;border-radius:2.5px;box-sizing:border-box;background:#fff;"></div>
<div class="t" style="top:687.9px;font-size:17px;color:#262626;-webkit-text-stroke:0.55px #262626;letter-spacing:-0.5px;left:1894.3px;">Plan upgraden</div>
<div class="t" style="top:721.5px;font-size:20px;color:#333;letter-spacing:-0.3px;left:1566.2px;">Link-Präsenz<span class="ii2" style="margin-left:5.3px;top:0px">i</span></div>
<div class="t" style="top:721.5px;font-size:20px;color:#333;letter-spacing:-0.2px;right:555.4px;">Keine Daten</div>
<div class="a" style="left:2050px;top:608px;width:486px;height:161px;background:#fff;border-radius:12px;box-shadow:0 1px 3px rgba(60,50,140,0.10);"></div>
<svg class="a" style="left:2078px;top:638px;" width="20" height="20" viewBox="0 0 20 20"><defs><clipPath id="gmc"><path d="M10 0C10.9 5.3 14.7 9.1 20 10 14.7 10.9 10.9 14.7 10 20 9.1 14.7 5.3 10.9 0 10 5.3 9.1 9.1 5.3 10 0Z"/></clipPath><filter id="gmb" x="-20%" y="-20%" width="140%" height="140%"><feGaussianBlur stdDeviation="1.3"/></filter></defs><g clip-path="url(#gmc)"><rect width="20" height="20" fill="#4a82f0"/><g filter="url(#gmb)"><path d="M10 10L5 -2L12 -2Z" fill="#e8453c"/><path d="M10 10L5 -1L-2 6Z" fill="#b06aa8"/><path d="M10 10L-2 6L-2 13Z" fill="#f4b400"/><path d="M10 10L-2 13L8 22Z" fill="#3aa757"/><path d="M10 10L8 22L11 22Z" fill="#3aa757"/></g></g></svg>
<div class="t" style="top:638.5px;font-size:22px;color:#262626;-webkit-text-stroke:0.7px #262626;letter-spacing:-1.0px;left:2107.7px;">Gemini</div>
<div class="t" style="top:686.9px;font-size:20px;color:#333;letter-spacing:-0.35px;left:2074.2px;">Erwähnungen<span class="ii2" style="margin-left:5.3px;top:0px">i</span></div>
<div class="a" style="left:2396.3px;top:682.2px;width:116.5px;height:27.5px;border:1.2px solid #c4c6d0;border-radius:2.5px;box-sizing:border-box;background:#fff;"></div>
<div class="t" style="top:687.9px;font-size:17px;color:#262626;-webkit-text-stroke:0.55px #262626;letter-spacing:-0.5px;left:2402.3px;">Plan upgraden</div>
<div class="t" style="top:721.5px;font-size:20px;color:#333;letter-spacing:-0.3px;left:2074.2px;">Link-Präsenz<span class="ii2" style="margin-left:5.3px;top:0px">i</span></div>
<div class="t" style="top:721.5px;font-size:20px;color:#333;letter-spacing:-0.2px;right:47.4px;">Keine Daten</div>
<div class="a" style="left:18px;top:803px;width:1248px;height:560px;background:#fff;border-radius:12px;box-shadow:0 0 0 1px #e5e6ec;"></div>
<div class="t" style="top:822.5px;font-size:22px;color:#262626;-webkit-text-stroke:0.7px #262626;letter-spacing:-0.55px;left:41.9px;">Traffic-Verteilung nach Ländern<span class="ii2" style="margin-left:5.85px;top:-3px">i</span></div>
<div class="a" style="left:18px;top:859.5px;width:1248px;height:2px;background:#e8e9ef;"></div>
<div class="t" style="top:893.1px;font-size:17px;color:#2e2e2e;-webkit-text-stroke:0.3px #2e2e2e;letter-spacing:0.1px;left:44.4px;">Organisch</div>
<div class="a" style="left:41px;top:915px;width:85px;height:3px;background:#3d6df0;border-radius:1px;"></div>
<div class="t" style="top:893.1px;font-size:17px;color:#2e2e2e;-webkit-text-stroke:0.3px #2e2e2e;letter-spacing:0.1px;left:140.6px;">Bezahlt</div>
<div class="a" style="left:991px;top:889px;width:39px;height:22.3px;background:#c3c4d0;border-radius:12px;"></div>
<div class="a" style="left:993.5px;top:891.5px;width:17.3px;height:17.3px;background:#fff;border-radius:50%;"></div>
<div class="t" style="top:890.8px;font-size:20px;color:#333;letter-spacing:-0.2px;left:1042.4px;">Kontinente anzeigen<span class="ii2" style="margin-left:4px;top:0px">i</span></div>
<div class="a" style="left:18px;top:941px;width:1248px;height:41.5px;background:#f1f2f7;border-top:1.5px solid #e1e3ea;border-bottom:1.5px solid #e1e3ea;box-sizing:border-box;"></div>
<div class="t" style="top:953.3px;font-size:17px;color:#2e2e2e;-webkit-text-stroke:0.3px #2e2e2e;letter-spacing:-0.3px;left:30.4px;">Land</div>
<div class="t" style="top:953.3px;font-size:17px;color:#2e2e2e;-webkit-text-stroke:0.3px #2e2e2e;letter-spacing:0.65px;right:1929.5px;">Traffic-Anteil</div>
<div class="t" style="top:953.3px;font-size:17px;color:#2e2e2e;-webkit-text-stroke:0.3px #2e2e2e;letter-spacing:0.55px;right:1618.0px;">Traffic</div>
<div class="t" style="top:953.3px;font-size:17px;color:#2e2e2e;-webkit-text-stroke:0.3px #2e2e2e;right:1306.2px;">Keywords gesamt</div>
<svg class="a" style="left:35px;top:999.0px;" width="12" height="19" viewBox="0 0 12 19"><path d="M2.5 1h7v1.6H8.3v5.6l2.4 2.6v1.5H7V18.5H5V12.3H1.3v-1.5l2.4-2.6V2.6H2.5z" fill="#767676"/></svg>
<svg width="23" height="15.5" viewBox="0 0 23 15.5" style="position:absolute;left:58px;top:1001.0px;"><defs><clipPath id="cf10"><rect width="23" height="15.5" rx="2"/></clipPath></defs><g clip-path="url(#cf10)"><rect width="23" height="5.466666666666667" fill="#252528"/><rect y="5.166666666666667" width="23" height="5.466666666666667" fill="#de3125"/><rect y="10.333333333333334" width="23" height="5.166666666666667" fill="#f6d452"/></g></svg>
<div class="t" style="top:999.4px;font-size:20px;color:#3b79bd;letter-spacing:-0.2px;left:87.2px;">Deutschland</div>
<div class="t" style="top:999.4px;font-size:20px;color:#3b79bd;letter-spacing:-0.6px;right:1929.5px;">91.35%</div>
<div class="t" style="top:999.4px;font-size:20px;color:#3b79bd;letter-spacing:-0.6px;right:1618.0px;"><span style="color:#3b79bd">95</span><svg width="15" height="14.4" viewBox="0 0 15 14.4" style="overflow:visible;margin-left:11px;margin-right:4px;vertical-align:0px"><path d="M7.5 1.0V13.4M1.0 6.9L7.5 13.4L14.0 6.9" fill="none" stroke="#e25f4f" stroke-width="2" stroke-linecap="round" stroke-linejoin="round"/></svg><span style="color:#e25f4f;letter-spacing:-0.6px">107</span></div>
<div class="t" style="top:999.4px;font-size:20px;color:#3b79bd;letter-spacing:-0.6px;right:1306.0px;"><span style="color:#3b79bd">1.2K</span><svg width="15" height="14.4" viewBox="0 0 15 14.4" style="overflow:visible;margin-left:11px;margin-right:4px;vertical-align:0px"><path d="M7.5 1.0V13.4M1.0 6.9L7.5 13.4L14.0 6.9" fill="none" stroke="#e25f4f" stroke-width="2" stroke-linecap="round" stroke-linejoin="round"/></svg><span style="color:#e25f4f;letter-spacing:-0.6px">105</span></div>
<div class="a" style="left:18px;top:1034.0px;width:1248px;height:1.5px;background:#e4e6ee;"></div>
<svg width="22.5" height="15.5" viewBox="0 0 22.5 15.5" style="position:absolute;left:30px;top:1053.3px;"><defs><clipPath id="cf11"><rect width="22.5" height="15.5" rx="2"/></clipPath></defs><g clip-path="url(#cf11)"><rect width="22.5" height="15.5" fill="#e33025"/><rect x="9.7" y="3.1000000000000005" width="3.1" height="9.299999999999999" fill="#fff"/><rect x="6.6000000000000005" y="6.2" width="9.299999999999999" height="3.1" fill="#fff"/></g></svg>
<div class="t" style="top:1051.7px;font-size:20px;color:#3b79bd;letter-spacing:-0.2px;left:58.8px;">Schweiz</div>
<div class="t" style="top:1051.7px;font-size:20px;color:#3b79bd;letter-spacing:-0.6px;right:1929.5px;">7.69%</div>
<div class="t" style="top:1051.7px;font-size:20px;color:#3b79bd;letter-spacing:-0.6px;right:1618.0px;"><span style="color:#3b79bd">8</span><svg width="15" height="14.4" viewBox="0 0 15 14.4" style="overflow:visible;margin-left:11px;margin-right:4px;vertical-align:0px"><path d="M7.5 13.4V1.0M1.0 7.5L7.5 1.0L14.0 7.5" fill="none" stroke="#4caf6e" stroke-width="2" stroke-linecap="round" stroke-linejoin="round"/></svg><span style="color:#4caf6e;letter-spacing:-0.6px">8</span></div>
<div class="t" style="top:1051.7px;font-size:20px;color:#3b79bd;letter-spacing:-0.6px;right:1306.0px;"><span style="color:#3b79bd">88</span><svg width="15" height="14.4" viewBox="0 0 15 14.4" style="overflow:visible;margin-left:11px;margin-right:4px;vertical-align:0px"><path d="M7.5 1.0V13.4M1.0 6.9L7.5 13.4L14.0 6.9" fill="none" stroke="#e25f4f" stroke-width="2" stroke-linecap="round" stroke-linejoin="round"/></svg><span style="color:#e25f4f;letter-spacing:-0.6px">37</span></div>
<div class="a" style="left:18px;top:1086.35px;width:1248px;height:1.5px;background:#e4e6ee;"></div>
<svg width="22.5" height="15.5" viewBox="0 0 22.5 15.5" style="position:absolute;left:30px;top:1105.7px;"><defs><clipPath id="cf12"><rect width="22.5" height="15.5" rx="2"/></clipPath></defs><g clip-path="url(#cf12)"><rect width="22.5" height="15.5" fill="#e2505b"/><rect y="5.166666666666667" width="22.5" height="5.166666666666667" fill="#fff"/></g></svg>
<div class="t" style="top:1104.1px;font-size:20px;color:#3b79bd;letter-spacing:-0.2px;left:58.8px;">Österreich</div>
<div class="t" style="top:1104.1px;font-size:20px;color:#3b79bd;letter-spacing:-0.6px;right:1929.5px;">0.96%</div>
<div class="t" style="top:1104.1px;font-size:20px;color:#3b79bd;letter-spacing:-0.6px;right:1618.0px;"><span style="color:#3b79bd">1</span><svg width="15" height="14.4" viewBox="0 0 15 14.4" style="overflow:visible;margin-left:11px;margin-right:4px;vertical-align:0px"><path d="M7.5 1.0V13.4M1.0 6.9L7.5 13.4L14.0 6.9" fill="none" stroke="#e25f4f" stroke-width="2" stroke-linecap="round" stroke-linejoin="round"/></svg><span style="color:#e25f4f;letter-spacing:-0.6px">5</span></div>
<div class="t" style="top:1104.1px;font-size:20px;color:#3b79bd;letter-spacing:-0.6px;right:1306.0px;"><span style="color:#3b79bd">115</span><svg width="15" height="14.4" viewBox="0 0 15 14.4" style="overflow:visible;margin-left:11px;margin-right:4px;vertical-align:0px"><path d="M7.5 1.0V13.4M1.0 6.9L7.5 13.4L14.0 6.9" fill="none" stroke="#e25f4f" stroke-width="2" stroke-linecap="round" stroke-linejoin="round"/></svg><span style="color:#e25f4f;letter-spacing:-0.6px">26</span></div>
<div class="a" style="left:18px;top:1138.7px;width:1248px;height:1.5px;background:#e4e6ee;"></div>
<svg width="22.5" height="15.5" viewBox="0 0 22.5 15.5" style="position:absolute;left:30px;top:1158.0px;"><defs><clipPath id="cf13"><rect width="22.5" height="15.5" rx="2"/></clipPath></defs><g clip-path="url(#cf13)"><rect width="22.5" height="15.5" fill="#fff"/><rect width="22.5" height="5.166666666666667" fill="#c9303c"/><rect y="10.333333333333334" width="22.5" height="5.166666666666667" fill="#2d4aa6"/></g></svg>
<div class="t" style="top:1156.4px;font-size:20px;color:#3b79bd;letter-spacing:-0.2px;left:58.8px;">Niederlande</div>
<div class="t" style="top:1156.4px;font-size:20px;color:#3b79bd;letter-spacing:-0.6px;right:1929.5px;">0%</div>
<div class="t" style="top:1156.4px;font-size:20px;color:#3b79bd;letter-spacing:-0.6px;right:1618.0px;"><span style="color:#3b79bd">0</span></div>
<div class="t" style="top:1156.4px;font-size:20px;color:#3b79bd;letter-spacing:-0.6px;right:1306.0px;"><span style="color:#3b79bd">3</span><svg width="15" height="14.4" viewBox="0 0 15 14.4" style="overflow:visible;margin-left:11px;margin-right:4px;vertical-align:0px"><path d="M7.5 1.0V13.4M1.0 6.9L7.5 13.4L14.0 6.9" fill="none" stroke="#e25f4f" stroke-width="2" stroke-linecap="round" stroke-linejoin="round"/></svg><span style="color:#e25f4f;letter-spacing:-0.6px">1</span></div>
<div class="a" style="left:18px;top:1191.05px;width:1248px;height:1.5px;background:#e4e6ee;"></div>
<svg width="22.5" height="15.5" viewBox="0 0 22.5 15.5" style="position:absolute;left:30px;top:1210.4px;"><defs><clipPath id="cf14"><rect width="22.5" height="15.5" rx="2"/></clipPath></defs><g clip-path="url(#cf14)"><rect width="22.5" height="15.5" fill="#fff"/><rect width="7.5" height="15.5" fill="#4bae5b"/><rect x="15.0" width="7.5" height="15.5" fill="#d8434f"/></g></svg>
<div class="t" style="top:1208.8px;font-size:20px;color:#3b79bd;letter-spacing:-0.2px;left:58.8px;">Italien</div>
<div class="t" style="top:1208.8px;font-size:20px;color:#3b79bd;letter-spacing:-0.6px;right:1929.5px;">0%</div>
<div class="t" style="top:1208.8px;font-size:20px;color:#3b79bd;letter-spacing:-0.6px;right:1618.0px;"><span style="color:#3b79bd">0</span><svg width="15" height="14.4" viewBox="0 0 15 14.4" style="overflow:visible;margin-left:11px;margin-right:4px;vertical-align:0px"><path d="M7.5 1.0V13.4M1.0 6.9L7.5 13.4L14.0 6.9" fill="none" stroke="#e25f4f" stroke-width="2" stroke-linecap="round" stroke-linejoin="round"/></svg><span style="color:#e25f4f;letter-spacing:-0.6px">2</span></div>
<div class="t" style="top:1208.8px;font-size:20px;color:#3b79bd;letter-spacing:-0.6px;right:1306.0px;"><span style="color:#3b79bd">15</span></div>
<div class="a" style="left:18px;top:1243.4px;width:1248px;height:1.5px;background:#e4e6ee;"></div>
<div class="a" style="left:30px;top:1261.0px;width:28px;height:20px;background:#2d3561;border-radius:2.5px;"></div>
<svg class="a" style="left:35px;top:1262.0px;" width="18" height="18" viewBox="0 0 18 18"><g fill="none" stroke="#fff" stroke-width="1.5"><circle cx="9" cy="9" r="7.3"/><ellipse cx="9" cy="9" rx="3.3" ry="7.3"/><path d="M1.7 9h14.6"/></g></svg>
<div class="t" style="top:1261.1px;font-size:20px;color:#333;letter-spacing:-0.2px;left:64.4px;">Sonstige</div>
<div class="t" style="top:1261.1px;font-size:20px;color:#333;letter-spacing:-0.6px;right:1929.5px;">0%</div>
<div class="t" style="top:1261.1px;font-size:20px;color:#333;letter-spacing:-0.6px;right:1618.0px;"><span style="color:#333">0</span><svg width="15" height="14.4" viewBox="0 0 15 14.4" style="overflow:visible;margin-left:11px;margin-right:4px;vertical-align:0px"><path d="M7.5 1.0V13.4M1.0 6.9L7.5 13.4L14.0 6.9" fill="none" stroke="#e25f4f" stroke-width="2" stroke-linecap="round" stroke-linejoin="round"/></svg><span style="color:#e25f4f;letter-spacing:-0.6px">1</span></div>
<div class="t" style="top:1261.1px;font-size:20px;color:#333;letter-spacing:-0.6px;right:1306.0px;"><span style="color:#333">88</span><svg width="15" height="14.4" viewBox="0 0 15 14.4" style="overflow:visible;margin-left:11px;margin-right:4px;vertical-align:0px"><path d="M7.5 1.0V13.4M1.0 6.9L7.5 13.4L14.0 6.9" fill="none" stroke="#e25f4f" stroke-width="2" stroke-linecap="round" stroke-linejoin="round"/></svg><span style="color:#e25f4f;letter-spacing:-0.6px">13</span></div>
<div class="a" style="left:18px;top:1295.75px;width:1248px;height:1.5px;background:#e4e6ee;"></div>
<div class="a" style="left:1288px;top:803px;width:1248px;height:560px;background:#fff;border-radius:12px;box-shadow:0 0 0 1px #e5e6ec;"></div>
<div class="a" style="left:1600px;top:803px;width:936px;height:56.5px;background:#f7f7fb;border-top-right-radius:12px;border-left:1px solid #e6e7ee;box-sizing:border-box;"></div>
<div class="a" style="left:1911.5px;top:811px;width:1px;height:38px;background:#d6d7de;"></div>
<div class="a" style="left:2223.5px;top:811px;width:1px;height:38px;background:#d6d7de;"></div>
<div class="t" style="top:822.7px;font-size:16.5px;color:#3b7bd4;transform:scaleX(0.91);transform-origin:left center;-webkit-text-stroke:0.3px #3b7bd4;left:1317.2px;">TRAFFIC GESAMT</div>
<div class="t" style="top:822.7px;font-size:16.5px;color:#222;transform:scaleX(0.91);transform-origin:left center;-webkit-text-stroke:0.3px #222;left:1628.8px;">KEYWORDS</div>
<div class="t" style="top:822.7px;font-size:16.5px;color:#222;transform:scaleX(0.91);transform-origin:left center;-webkit-text-stroke:0.3px #222;left:1941.3px;">TRAFFIC-KOSTEN</div>
<div class="t" style="top:822.7px;font-size:16.5px;color:#222;transform:scaleX(0.91);transform-origin:left center;-webkit-text-stroke:0.3px #222;left:2252.7px;">BACKLINKS</div>
<div class="t" style="top:891.6px;font-size:17px;color:#2e2e2e;-webkit-text-stroke:0.3px #2e2e2e;letter-spacing:0.8px;left:1314.5px;">6M</div>
<div class="t" style="top:891.6px;font-size:17px;color:#2e2e2e;-webkit-text-stroke:0.3px #2e2e2e;letter-spacing:-0.6px;left:1357.6px;">12M</div>
<div class="t" style="top:891.6px;font-size:17px;color:#2e2e2e;-webkit-text-stroke:0.3px #2e2e2e;letter-spacing:-0.6px;left:1408.0px;">18M</div>
<div class="t" style="top:891.6px;font-size:17px;color:#2e2e2e;-webkit-text-stroke:0.3px #2e2e2e;letter-spacing:-0.6px;left:1459.3px;">24M</div>
<div class="t" style="top:891.6px;font-size:17px;color:#2e2e2e;-webkit-text-stroke:0.3px #2e2e2e;letter-spacing:-0.6px;left:1511.6px;">30M</div>
<div class="t" style="top:891.6px;font-size:17px;color:#2e2e2e;-webkit-text-stroke:0.3px #2e2e2e;letter-spacing:-0.6px;left:1566.0px;">36M</div>
<div class="t" style="top:891.6px;font-size:17px;color:#2e2e2e;-webkit-text-stroke:0.3px #2e2e2e;letter-spacing:0.2px;left:1619.5px;">Gesamter Zeitraum</div>
<div class="a" style="left:1355px;top:914px;width:39px;height:3px;background:#3d6df0;border-radius:1px;"></div>
<div class="a" style="left:2328px;top:888.5px;width:39.5px;height:22.5px;background:#4469ee;border-radius:12px;"></div>
<div class="a" style="left:2347.3px;top:891px;width:17.5px;height:17.5px;background:#fff;border-radius:50%;"></div>
<div class="t" style="top:890.1px;font-size:20px;color:#333;letter-spacing:-0.45px;left:2380.0px;">Updates zeigen</div>
<div class="t" style="top:942.1px;font-size:17px;color:#777;letter-spacing:0.1px;left:1312.4px;">Traffic</div>
<div class="t" style="top:942.6px;font-size:17px;color:#8783e6;letter-spacing:0.1px;right:47.0px;">AI Overview-Traffic</div>
<div class="t" style="top:1257.2px;font-size:16px;color:#666;letter-spacing:0.3px;right:1223.0px;">0</div>
<div class="t" style="top:1168.8px;font-size:16px;color:#666;letter-spacing:0.3px;right:1223.0px;">100</div>
<div class="t" style="top:1081.0px;font-size:16px;color:#666;letter-spacing:0.3px;right:1223.0px;">200</div>
<div class="t" style="top:990.7px;font-size:16px;color:#666;letter-spacing:0.3px;right:1223.0px;">300</div>
<svg class="a" style="left:0px;top:0px;pointer-events:none;" width="2560" height="1314" viewBox="0 0 2560 1314"><defs><filter id="sh" x="-5%" y="-20%" width="110%" height="140%"><feGaussianBlur in="SourceAlpha" stdDeviation="1.6"/><feOffset dx="1" dy="2" result="b"/><feComponentTransfer><feFuncA type="linear" slope="0.25"/></feComponentTransfer><feMerge><feMergeNode/><feMergeNode in="SourceGraphic"/></feMerge></filter></defs><line x1="1358.6" y1="1175.8" x2="2513" y2="1175.8" stroke="#e6e6e9" stroke-width="1.3"/><line x1="1358.6" y1="1088.0" x2="2513" y2="1088.0" stroke="#e6e6e9" stroke-width="1.3"/><line x1="1358.6" y1="997.7" x2="2513" y2="997.7" stroke="#e6e6e9" stroke-width="1.3"/><line x1="1358.6" y1="1264.2" x2="2513" y2="1264.2" stroke="#ccd6eb" stroke-width="1.5"/><line x1="1370.3" y1="1265" x2="1370.3" y2="1278.5" stroke="#ccd6eb" stroke-width="1.2"/><line x1="1558.4" y1="1265" x2="1558.4" y2="1278.5" stroke="#ccd6eb" stroke-width="1.2"/><line x1="1748" y1="1265" x2="1748" y2="1278.5" stroke="#ccd6eb" stroke-width="1.2"/><line x1="1930.5" y1="1265" x2="1930.5" y2="1278.5" stroke="#ccd6eb" stroke-width="1.2"/><line x1="2120" y1="1265" x2="2120" y2="1278.5" stroke="#ccd6eb" stroke-width="1.2"/><line x1="2309.5" y1="1265" x2="2309.5" y2="1278.5" stroke="#ccd6eb" stroke-width="1.2"/><line x1="2502" y1="1265" x2="2502" y2="1278.5" stroke="#ccd6eb" stroke-width="1.2"/><line x1="1358.6" y1="1264.2" x2="2502" y2="1264.2" stroke="#4d7be0" stroke-width="2"/><circle cx="1370.3" cy="1264.2" r="5" fill="#4a7be0" stroke="#fff" stroke-width="1"/><circle cx="1462.3" cy="1264.2" r="5" fill="#4a7be0" stroke="#fff" stroke-width="1"/><circle cx="1652" cy="1264.2" r="5" fill="#4a7be0" stroke="#fff" stroke-width="1"/><circle cx="1844.4" cy="1264.2" r="5" fill="#4a7be0" stroke="#fff" stroke-width="1"/><circle cx="2027" cy="1264.2" r="5" fill="#4a7be0" stroke="#fff" stroke-width="1"/><circle cx="2120" cy="1264.2" r="5" fill="#4a7be0" stroke="#fff" stroke-width="1"/><circle cx="2309.5" cy="1264.2" r="5" fill="#4a7be0" stroke="#fff" stroke-width="1"/><circle cx="2502" cy="1264.2" r="5" fill="#4a7be0" stroke="#fff" stroke-width="1"/><svg x="1548.9" y="1254.7" width="19" height="19" viewBox="-2 -2 52 52"><circle cx="24" cy="24" r="25" fill="#fff"/><path fill="#EA4335" d="M24 9.5c3.54 0 6.71 1.22 9.21 3.6l6.85-6.85C35.9 2.38 30.47 0 24 0 14.62 0 6.51 5.38 2.56 13.22l7.98 6.19C12.43 13.72 17.74 9.5 24 9.5z"/><path fill="#4285F4" d="M46.98 24.55c0-1.57-.15-3.09-.38-4.55H24v9.02h12.94c-.58 2.96-2.26 5.48-4.78 7.18l7.73 6c4.51-4.18 7.09-10.36 7.09-17.650z"/><path fill="#FBBC05" d="M10.53 28.59c-.48-1.45-.76-2.990-.76-4.59s.27-3.14.76-4.59l-7.98-6.19C.92 16.46 0 20.12 0 24c0 3.88.92 7.54 2.56 10.78l7.97-6.19z"/><path fill="#34A853" d="M24 48c6.48 0 11.93-2.13 15.89-5.81l-7.73-6c-2.15 1.45-4.92 2.3-8.16 2.3-6.26 0-11.57-4.22-13.470-9.91l-7.98 6.19C6.51 42.62 14.62 48 24 48z"/></svg><g transform="translate(1739.5,1254)"><ellipse cx="8.5" cy="3.6" rx="8.3" ry="3.4" fill="#222"/><path d="M0.2 5.2v3.3c0 1.9 3.7 3.4 8.3 3.4s8.3-1.5 8.3-3.4V5.2c-1.4 1.6-4.6 2.6-8.3 2.6S1.6 6.8.2 5.2z" fill="#222"/><path d="M0.2 10.2v3.3c0 1.9 3.7 3.4 8.3 3.4s8.3-1.5 8.3-3.4v-3.3c-1.4 1.6-4.6 2.6-8.3 2.6S1.6 11.8.2 10.2z" fill="#222"/></g><svg x="1921.0" y="1254.7" width="19" height="19" viewBox="-2 -2 52 52"><circle cx="24" cy="24" r="25" fill="#fff"/><path fill="#EA4335" d="M24 9.5c3.54 0 6.71 1.22 9.21 3.6l6.85-6.85C35.9 2.38 30.47 0 24 0 14.62 0 6.51 5.38 2.56 13.22l7.98 6.19C12.43 13.72 17.74 9.5 24 9.5z"/><path fill="#4285F4" d="M46.98 24.55c0-1.57-.15-3.09-.38-4.55H24v9.02h12.94c-.58 2.96-2.26 5.48-4.78 7.18l7.73 6c4.51-4.18 7.09-10.36 7.09-17.650z"/><path fill="#FBBC05" d="M10.53 28.59c-.48-1.45-.76-2.990-.76-4.59s.27-3.14.76-4.59l-7.98-6.19C.92 16.46 0 20.12 0 24c0 3.88.92 7.54 2.56 10.78l7.97-6.19z"/><path fill="#34A853" d="M24 48c6.48 0 11.93-2.13 15.89-5.81l-7.73-6c-2.15 1.45-4.92 2.3-8.16 2.3-6.26 0-11.57-4.22-13.470-9.91l-7.98 6.19C6.51 42.62 14.62 48 24 48z"/></svg><svg x="2206.75" y="1254.7" width="19" height="19" viewBox="-2 -2 52 52"><circle cx="24" cy="24" r="25" fill="#fff"/><path fill="#EA4335" d="M24 9.5c3.54 0 6.71 1.22 9.21 3.6l6.85-6.85C35.9 2.38 30.47 0 24 0 14.62 0 6.51 5.38 2.56 13.22l7.98 6.19C12.43 13.72 17.74 9.5 24 9.5z"/><path fill="#4285F4" d="M46.98 24.55c0-1.57-.15-3.09-.38-4.55H24v9.02h12.94c-.58 2.96-2.26 5.48-4.78 7.18l7.73 6c4.51-4.18 7.09-10.36 7.09-17.650z"/><path fill="#FBBC05" d="M10.53 28.59c-.48-1.45-.76-2.990-.76-4.59s.27-3.14.76-4.59l-7.98-6.19C.92 16.46 0 20.12 0 24c0 3.88.92 7.54 2.56 10.78l7.97-6.19z"/><path fill="#34A853" d="M24 48c6.48 0 11.93-2.13 15.89-5.81l-7.73-6c-2.15 1.45-4.92 2.3-8.16 2.3-6.26 0-11.57-4.22-13.470-9.91l-7.98 6.19C6.51 42.62 14.62 48 24 48z"/></svg><svg x="2396.25" y="1254.7" width="19" height="19" viewBox="-2 -2 52 52"><circle cx="24" cy="24" r="25" fill="#fff"/><path fill="#EA4335" d="M24 9.5c3.54 0 6.71 1.22 9.21 3.6l6.85-6.85C35.9 2.38 30.47 0 24 0 14.62 0 6.51 5.38 2.56 13.22l7.98 6.19C12.43 13.72 17.74 9.5 24 9.5z"/><path fill="#4285F4" d="M46.98 24.55c0-1.57-.15-3.09-.38-4.55H24v9.02h12.94c-.58 2.96-2.26 5.48-4.78 7.18l7.73 6c4.51-4.18 7.09-10.36 7.09-17.650z"/><path fill="#FBBC05" d="M10.53 28.59c-.48-1.45-.76-2.990-.76-4.59s.27-3.14.76-4.59l-7.98-6.19C.92 16.46 0 20.12 0 24c0 3.88.92 7.54 2.56 10.78l7.97-6.19z"/><path fill="#34A853" d="M24 48c6.48 0 11.93-2.13 15.89-5.81l-7.73-6c-2.15 1.45-4.92 2.3-8.16 2.3-6.26 0-11.57-4.22-13.470-9.91l-7.98 6.19C6.51 42.62 14.62 48 24 48z"/></svg><path d="M1370.3,1224.8 C1370.3,1224.8 1425.5,1233.2 1462.3,1233.2 C1500.7,1233.2 1520.0,1224.0 1558.4,1220.5 C1595.8,1217.1 1614.6,1220.5 1652,1216.1 C1690.4,1211.7 1709.6,1216.1 1748,1193.5 C1786.6,1170.9 1805.8,1097.4 1844.4,1097.4 C1878.8,1097.4 1896.1,1209.5 1930.5,1209.5 C1969.1,1209.5 1988.4,1196.8 2027,1193.75 C2064.2,1190.8 2082.8,1190.8 2120,1190.75 C2158.5,1190.8 2177.8,1193.8 2216.25,1193.75 C2253.6,1193.8 2272.2,1175.7 2309.5,1154.25 C2348.0,1132.2 2367.2,1085.0 2405.75,1085 C2444.2,1085.0 2502.0,1180.0 2502,1180" fill="none" stroke="#5aae7b" stroke-width="3.2" stroke-linecap="round" filter="url(#sh)"/><circle cx="1370.3" cy="1224.8" r="5.2" fill="#5aae7b" stroke="#fff" stroke-width="1.4"/><circle cx="1462.3" cy="1233.2" r="5.2" fill="#5aae7b" stroke="#fff" stroke-width="1.4"/><circle cx="1558.4" cy="1220.5" r="5.2" fill="#5aae7b" stroke="#fff" stroke-width="1.4"/><circle cx="1652" cy="1216.1" r="5.2" fill="#5aae7b" stroke="#fff" stroke-width="1.4"/><circle cx="1748" cy="1193.5" r="5.2" fill="#5aae7b" stroke="#fff" stroke-width="1.4"/><circle cx="1844.4" cy="1097.4" r="5.2" fill="#5aae7b" stroke="#fff" stroke-width="1.4"/><circle cx="1930.5" cy="1209.5" r="5.2" fill="#5aae7b" stroke="#fff" stroke-width="1.4"/><circle cx="2027" cy="1193.75" r="5.2" fill="#5aae7b" stroke="#fff" stroke-width="1.4"/><circle cx="2120" cy="1190.75" r="5.2" fill="#5aae7b" stroke="#fff" stroke-width="1.4"/><circle cx="2216.25" cy="1193.75" r="5.2" fill="#5aae7b" stroke="#fff" stroke-width="1.4"/><circle cx="2309.5" cy="1154.25" r="5.2" fill="#5aae7b" stroke="#fff" stroke-width="1.4"/><circle cx="2405.75" cy="1085" r="5.2" fill="#5aae7b" stroke="#fff" stroke-width="1.4"/><circle cx="2502" cy="1180" r="5.2" fill="#5aae7b" stroke="#fff" stroke-width="1.4"/></svg>
<div class="t" style="top:1278.9px;font-size:17px;color:#6b7c8d;letter-spacing:-0.2px;left:1070.3px;width:600px;text-align:center;">Sep 2024</div>
<div class="t" style="top:1278.9px;font-size:17px;color:#6b7c8d;letter-spacing:-0.2px;left:1258.4px;width:600px;text-align:center;">Nov 2024</div>
<div class="t" style="top:1278.9px;font-size:17px;color:#6b7c8d;letter-spacing:-0.2px;left:1448.0px;width:600px;text-align:center;">Jan 2025</div>
<div class="t" style="top:1278.9px;font-size:17px;color:#6b7c8d;letter-spacing:-0.2px;left:1630.5px;width:600px;text-align:center;">Mär 2025</div>
<div class="t" style="top:1278.9px;font-size:17px;color:#6b7c8d;letter-spacing:-0.2px;left:1820.0px;width:600px;text-align:center;">Mai 2025</div>
<div class="t" style="top:1278.9px;font-size:17px;color:#6b7c8d;letter-spacing:-0.2px;left:2009.5px;width:600px;text-align:center;">Jul 2025</div>
<div class="t" style="top:1278.9px;font-size:17px;color:#6b7c8d;letter-spacing:-0.2px;right:47.0px;">Sep 2025</div>
<div class="a" style="left:2438.7px;top:1154.2px;width:90px;height:90px;border-radius:50%;background:#2f69f6;box-shadow:-4px 22px 30px 2px rgba(40,50,90,0.09);"></div>
<div class="a" style="left:2462.5px;top:1187px;width:42.5px;height:20.5px;background:#fff;border-radius:11px;"></div>
<svg class="a" style="left:2487px;top:1211px;" width="10" height="10" viewBox="0 0 10 10"><path d="M0 0H9V9Z" fill="#fff"/></svg>
<svg class="a" style="left:2554px;top:1308px;" width="6" height="6" viewBox="0 0 6 6"><path d="M6 0V6H0Z" fill="#222"/></svg>
</div>
</body></html>
